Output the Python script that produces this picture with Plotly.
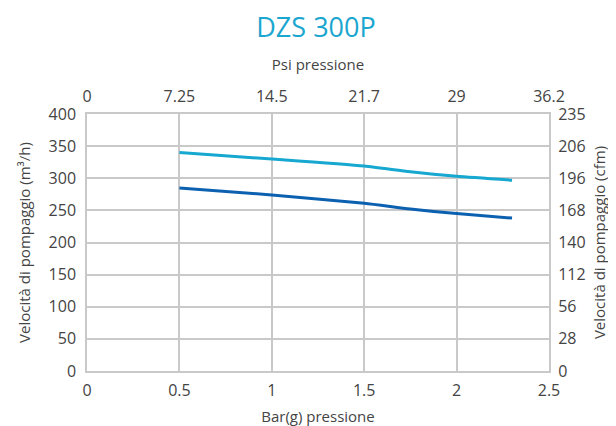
import plotly.graph_objects as go

bar_pressure = [0.5, 1.0, 1.5, 1.75, 2.0, 2.3]
flow_light = [340, 330, 319, 310, 303, 297]
flow_dark = [285, 274, 261, 252, 245, 238]

bar_ticks = [0, 0.5, 1, 1.5, 2, 2.5]
bar_labels = ["0", "0.5", "1", "1.5", "2", "2.5"]
psi_labels = ["0", "7.25", "14.5", "21.7", "29", "36.2"]
m3h_ticks = [0, 50, 100, 150, 200, 250, 300, 350, 400]
cfm_labels = ["0", "28", "56", "112", "140", "168", "196", "206", "235"]

grid = "#c9c9c9"
txt = "#444444"
clear = "rgba(0,0,0,0)"
font = "Open Sans, Noto Sans, sans-serif"
tick_size = 16
title_size = 15

fig = go.Figure()
fig.add_trace(go.Scatter(x=bar_pressure, y=flow_light, mode="lines",
                         line=dict(color="#16a8d0", width=3, shape="spline", smoothing=0.6),
                         showlegend=False, hoverinfo="skip"))
fig.add_trace(go.Scatter(x=bar_pressure, y=flow_dark, mode="lines",
                         line=dict(color="#0c60b0", width=3, shape="spline", smoothing=0.6),
                         showlegend=False, hoverinfo="skip"))
# invisible trace to anchor secondary axes
fig.add_trace(go.Scatter(x=[bar_ticks[0], bar_ticks[-1]], y=[m3h_ticks[0], m3h_ticks[-1]],
                         xaxis="x2", yaxis="y2", mode="markers",
                         marker=dict(opacity=0), showlegend=False, hoverinfo="skip"))

fig.update_layout(
    width=616, height=426,
    margin=dict(l=79, r=75, t=106, b=63, autoexpand=False),
    paper_bgcolor="white", plot_bgcolor="white",
    font=dict(family=font, color=txt, size=tick_size),
    title=dict(text="DZS 300P", x=0.5, xanchor="center", y=0.955, yanchor="middle",
               font=dict(size=27, color="#1aa6cf", family=font)),
    xaxis=dict(range=[0, 2.5], tickvals=bar_ticks, ticktext=bar_labels,
               showgrid=True, gridcolor=grid, gridwidth=1.5,
               showline=True, linecolor=grid, linewidth=1.5, mirror=True,
               zeroline=False, ticks="outside", ticklen=4, tickcolor=clear,
               automargin=False,
               title=dict(text="Bar(g) pressione", standoff=12, font=dict(size=title_size)),
               tickfont=dict(size=tick_size)),
    yaxis=dict(range=[0, 400], tickvals=m3h_ticks,
               showgrid=True, gridcolor=grid, gridwidth=1.5,
               showline=True, linecolor=grid, linewidth=1.5, mirror=True,
               zeroline=False, ticks="outside", ticklen=6, tickcolor=clear,
               automargin=False,
               title=dict(text="Velocità di pompaggio (m³/h)", standoff=14, font=dict(size=title_size)),
               tickfont=dict(size=tick_size)),
    xaxis2=dict(range=[0, 2.5], overlaying="x", side="top", anchor="y2",
                tickvals=bar_ticks, ticktext=psi_labels,
                showgrid=False, zeroline=False, showline=False,
                ticks="outside", ticklen=5, tickcolor=clear, automargin=False,
                title=dict(text="Psi pressione", standoff=10, font=dict(size=title_size)),
                tickfont=dict(size=tick_size)),
    yaxis2=dict(range=[0, 400], overlaying="y", side="right", anchor="x2",
                tickvals=m3h_ticks, ticktext=cfm_labels,
                showgrid=False, zeroline=False, showline=False,
                ticks="outside", ticklen=5, tickcolor=clear, automargin=False,
                title=dict(text="Velocità di pompaggio (cfm)", standoff=9, font=dict(size=title_size)),
                tickfont=dict(size=tick_size)),
)

fig.write_html("out.html")
